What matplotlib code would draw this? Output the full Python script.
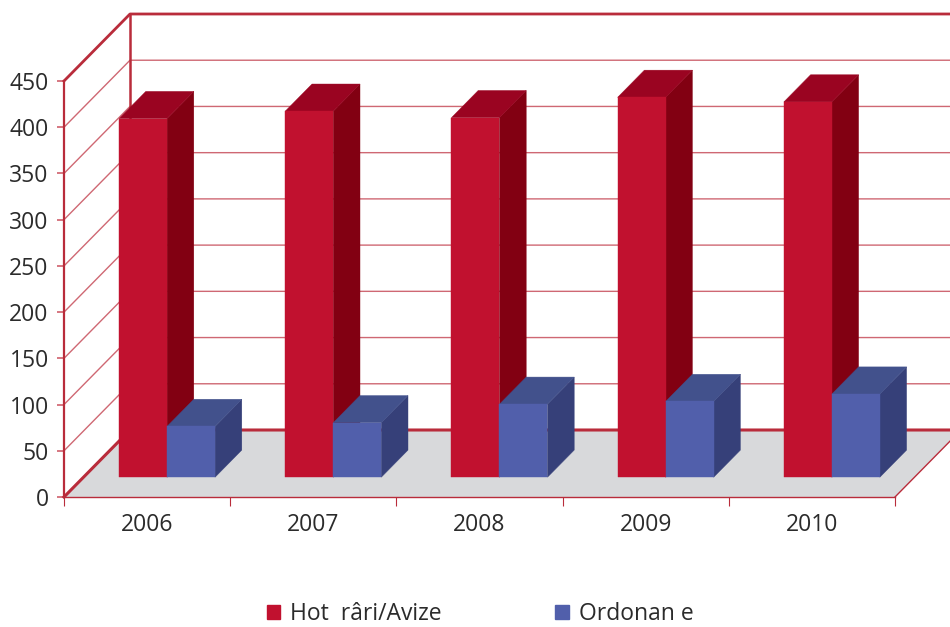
import matplotlib
matplotlib.use("Agg")
import matplotlib.pyplot as plt
from matplotlib.patches import Polygon, Patch

years = ["2006", "2007", "2008", "2009", "2010"]
hotarari = [388, 396, 389, 411, 406]
ordonante = [55, 59, 79, 82, 90]
yticks = [0, 50, 100, 150, 200, 250, 300, 350, 400, 450]

RED = ("#c1112f", "#9a0421", "#820012")
BLUE = ("#515fab", "#42518c", "#364079")
LINE = "#b92c3b"
GRID = "#cf6873"

plt.rcParams['font.family'] = 'Open Sans'

W, H = 950, 627
fig = plt.figure(figsize=(W / 100, H / 100), dpi=100)
ax = fig.add_axes([64 / W, (H - 497) / H, 831 / W, 416 / H])
ax.set_xlim(0, 5)
ax.set_ylim(0, 450)
ax.patch.set_alpha(0)

# one unit of depth moves 66 px right and 67 px up on the screen
DX = 66 / (831 / 5)
DY = 67 / (416 / 450)


def proj(x, y, d):
    return (x + d * DX, y + d * DY)


def box(x0, x1, value, colors, d0=0.295, d1=0.70):
    front = [proj(x0, 0, d0), proj(x1, 0, d0), proj(x1, value, d0), proj(x0, value, d0)]
    top = [proj(x0, value, d0), proj(x1, value, d0), proj(x1, value, d1), proj(x0, value, d1)]
    side = [proj(x1, 0, d0), proj(x1, 0, d1), proj(x1, value, d1), proj(x1, value, d0)]
    for pts, c in ((side, colors[2]), (top, colors[1]), (front, colors[0])):
        ax.add_patch(Polygon(pts, closed=True, fc=c, ec=c, lw=0.3, clip_on=False, zorder=5))


# floor
ax.add_patch(Polygon([proj(0, 0, 0), proj(5, 0, 0), proj(5, 0, 1), proj(0, 0, 1)],
                     closed=True, fc="#d8d9db", ec="none", clip_on=False, zorder=1))
ax.plot(*zip(proj(5, 0, 0), proj(5, 0, 1)), color=LINE, lw=1, clip_on=False, zorder=2)

# walls
for v in yticks[1:-1]:
    ax.plot(*zip(proj(0, v, 0), proj(0, v, 1), proj(5, v, 1)), color=GRID, lw=1,
            clip_on=False, zorder=2)
ax.plot(*zip(proj(0, 0, 0), proj(0, 0, 1), proj(5, 0, 1)), color=LINE, lw=2.2,
        clip_on=False, zorder=3)
ax.plot(*zip(proj(0, 450, 0), proj(0, 450, 1), proj(5, 450, 1)), color=LINE, lw=2,
        clip_on=False, zorder=3)
ax.plot(*zip(proj(0, 0, 1), proj(0, 450, 1)), color=LINE, lw=1.8, clip_on=False, zorder=3)

# bars
bw = 48 / (831 / 5)
for i in range(len(years)):
    c = i + 0.503
    box(c - bw, c, hotarari[i], RED)
    box(c, c + bw, ordonante[i], BLUE)

for s in ("top", "right"):
    ax.spines[s].set_visible(False)
ax.spines["left"].set_color(LINE)
ax.spines["left"].set_linewidth(1.6)
ax.spines["bottom"].set_color(LINE)
ax.spines["bottom"].set_linewidth(1)

ax.set_yticks(yticks)
ax.tick_params(axis="y", direction="out", length=5, width=1.2, color="#d0606c",
               labelsize=16.5, labelcolor="#2b2b2b", pad=6)
ax.set_xticks(range(6))
ax.set_xticklabels([])
ax.set_xticks([i + 0.5 for i in range(5)], years, minor=True)
ax.tick_params(axis="x", which="major", direction="out", length=6.5, width=0.8, color=LINE)
ax.tick_params(axis="x", which="minor", length=0, labelsize=16.5, labelcolor="#2b2b2b", pad=11.5)

handles = [Patch(color=RED[0]), Patch(color=BLUE[0])]
fig.legend(handles, ["Hot  râri/Avize", "Ordonan e"], ncol=2, frameon=False,
           loc="lower left", bbox_to_anchor=(246 / W, -20 / H), fontsize=16.5,
           labelcolor="#2b2b2b", handlelength=0.58, handleheight=0.58,
           handletextpad=0.45, columnspacing=4.95)

fig.savefig("out.png", dpi=100)
